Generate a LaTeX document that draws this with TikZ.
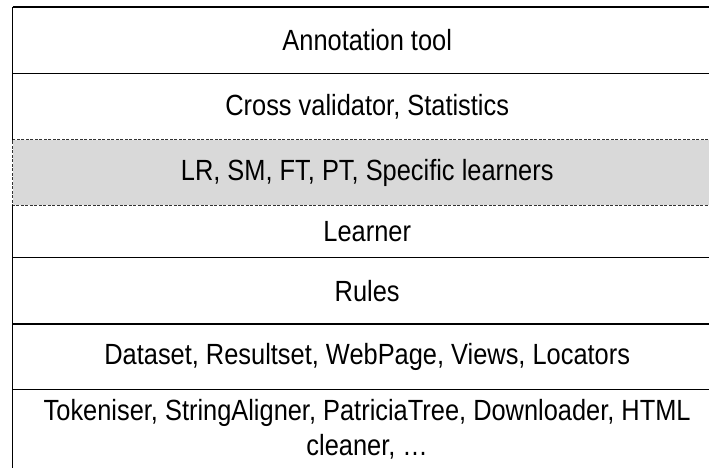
\documentclass[tikz,border=0pt]{standalone}
\usepackage{fontspec}
\setmainfont{Liberation Sans}
\usepackage{graphicx}
\usepackage{tikz}
\usetikzlibrary{positioning}
\definecolor{bandgray}{HTML}{D9D9D9}
\newcommand{\tallt}[1]{\scalebox{1}[1.15]{#1}}

\begin{document}
\begin{tikzpicture}[x=1pt,y=1pt,
  every node/.style={font=\fontsize{25.4}{35}\selectfont,align=center},
  layer/.style={rectangle,inner sep=0pt,minimum width=709pt},
  hline/.style={line width=1.6pt,black},
  dline/.style={line width=0.9pt,black!80,dash pattern=on 3pt off 1.5pt},
]
\useasboundingbox (0,0) rectangle (709,-467);

\node[layer,minimum height=66pt,anchor=north west] (ann) at (12.5,-7) {\tallt{Annotation tool}};
\node[layer,minimum height=66pt,below=0pt of ann] (cross) {\tallt{Cross validator, Statistics}};
\node[layer,minimum height=65pt,below=0pt of cross,fill=bandgray] (spec) {\tallt{LR, SM, FT, PT, Specific learners}};
\node[layer,minimum height=52pt,below=0pt of spec] (learner) {\tallt{Learner}};
\node[layer,minimum height=66pt,below=0pt of learner] (rules) {\tallt{Rules}};
\node[layer,minimum height=65pt,below=0pt of rules] (data) {\tallt{Dataset, Resultset, WebPage, Views, Locators}};
\node[layer,minimum height=80pt,below=0pt of data] (util) {\tallt{Tokeniser, StringAligner, PatriciaTree, Downloader, HTML}\\\tallt{cleaner, …}};

\draw[hline] (ann.north west) -- (ann.north east);
\draw[hline] (ann.south west) -- (ann.south east);
\draw[dline] (spec.north east) -- (spec.north west) -- (spec.south west) -- (spec.south east);
\draw[hline] (learner.south west) -- (learner.south east);
\draw[hline] (rules.south west) -- (rules.south east);
\draw[hline] (data.south west) -- (data.south east);
\draw[hline] (ann.north west) -- (cross.south west);
\draw[hline] (learner.north west) -- (util.south west);
\end{tikzpicture}
\end{document}
